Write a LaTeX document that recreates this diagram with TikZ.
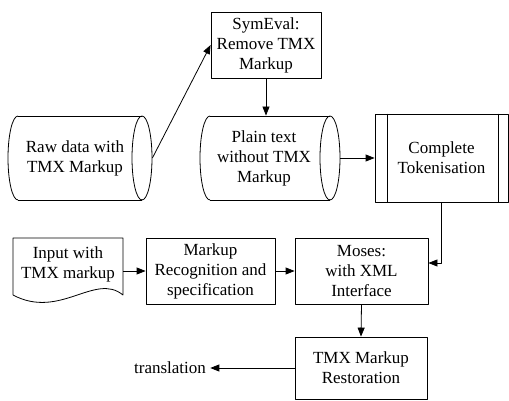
\documentclass[tikz,border=0pt]{standalone}
\usepackage{fontspec}
\setmainfont{Liberation Serif}
\usetikzlibrary{arrows.meta}
% stored data outline: left, right, top, bottom
\newcommand\storeshape[4]{%
  \draw (#1+10,#3) -- (#2-10,#3) (#1+10,#4) -- (#2-10,#4);
  \draw (#1+10,#3) arc[start angle=270,end angle=90,x radius=10,y radius={(#4-#3)/2}];
  \draw (#2-10,{(#3+#4)/2}) ellipse[x radius=10,y radius={(#4-#3)/2}];}
\begin{document}
\begin{tikzpicture}[x=1pt,y=-1pt,>={Triangle[length=9pt,width=7pt]},font=\fontsize{17}{20}\selectfont,line width=0.8pt,line join=round]
		\tikzset{box/.style={draw,align=center,inner sep=0pt}}
		\tikzset{store/.style={align=center,inner sep=0pt}}
		\useasboundingbox (0,0) rectangle (509,401);
		% top part
		\node[box,minimum width=110pt,minimum height=66pt] (symeval) at (266,45) {SymEval:\\Remove TMX\\Markup};
		\node[store,minimum width=154pt,minimum height=84pt] (rawdata) at (75,158) {Raw data with\\TMX Markup};
		\node[store,minimum width=152pt,minimum height=84pt] (plaintext) at (264,158) {Plain text\\without TMX\\Markup};
		\node[box,minimum width=133pt,minimum height=88pt] (tokenise) at (441.5,158) {Complete\\Tokenisation};
		\storeshape{8}{152}{116}{200}
		\storeshape{200}{340}{116}{200}
		\draw ([xshift=13pt]tokenise.north west) -- ([xshift=13pt]tokenise.south west)
		([xshift=-10pt]tokenise.north east) -- ([xshift=-10pt]tokenise.south east);
		% bottom part
		\node[store,minimum width=110pt,minimum height=52pt] (input) at (68,264) {Input with\\TMX markup};
		\draw (13,238) -- (123,238) -- (123,295) .. controls (95,272) and (60,320) .. (13,295) -- cycle;
		\node[box,minimum width=129pt,minimum height=66pt] (markup) at (210.5,271) {Markup\\Recognition and\\specification};
		\node[box,minimum width=133pt,minimum height=66pt] (moses) at (361.5,271) {Moses:\\with XML\\Interface};
		\node[box,minimum width=132pt,minimum height=62pt] (restore) at (361,368) {TMX Markup\\Restoration};
		\node[inner sep=0pt] (translation) at (170,368) {translation};
		% connectors
		\draw[->] (rawdata.east) -- (symeval.west);
		\draw[->] (symeval.south) -- (symeval.south |- plaintext.north);
		\draw[->] (plaintext.east) -- (tokenise.west);
		\draw[->] (tokenise.south) |- ([yshift=8pt]moses.east);
		\draw[->] (input.east |- markup.west) -- (markup.west);
		\draw[->] (markup.east) -- (moses.west);
		\draw[->] (moses.south) -- (restore.north);
		\draw[->] (restore.west) -- ([xshift=4pt]translation.east);
\end{tikzpicture}
\end{document}
